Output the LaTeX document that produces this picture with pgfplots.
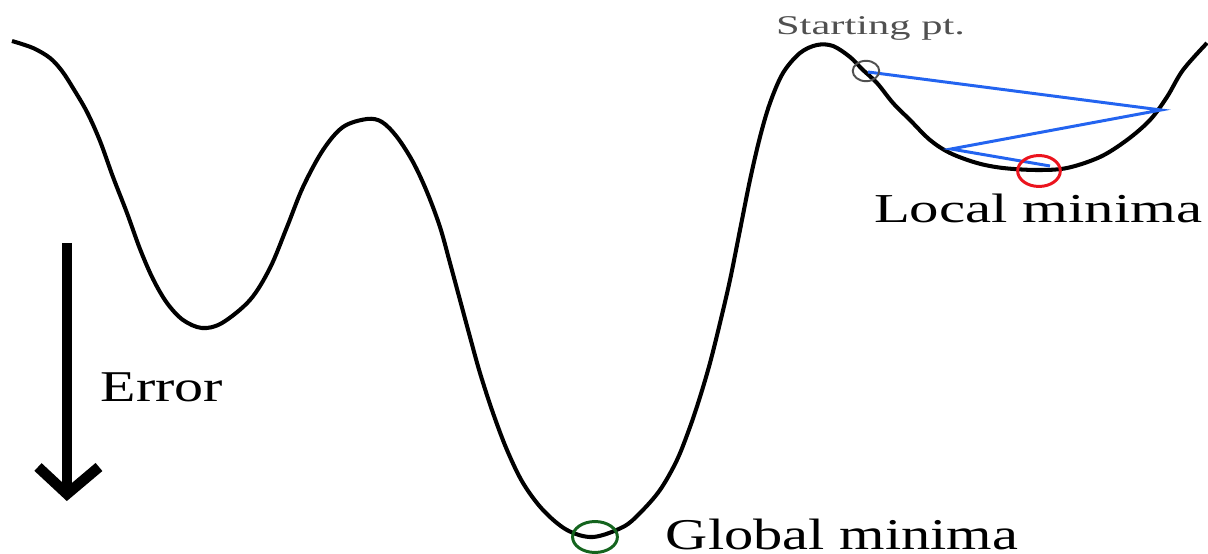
\documentclass[border=0pt]{standalone}
\usepackage{pgfplots}
\pgfplotsset{compat=1.18}
\usepackage{fontspec}
\setmainfont{Liberation Serif}
\definecolor{gdblue}{RGB}{35,100,240}
\definecolor{mingreen}{RGB}{20,100,30}
\definecolor{minred}{RGB}{235,20,30}
\definecolor{txtgray}{RGB}{80,80,80}
\begin{document}
\begin{tikzpicture}
\begin{axis}[
  scale only axis, width=12.08cm, height=5.54cm,
  xmin=0, xmax=1208, ymin=0, ymax=554, y dir=reverse,
  hide axis, clip=false]
\coordinate (BL) at (axis cs:0,554);
\coordinate (TR) at (axis cs:1208,0);
% error surface
\addplot[black, line width=1.15pt, smooth, tension=0.55] coordinates {
(12,41)(33,48)(50,58)(62,71)(73,88)(87,112)(100,141)(113,177)(127,213)(140,249)
(153,279)(167,303)(183,320)(202,328)(222,323)(250,300)(270,268)(287,227)(303,187)
(323,150)(343,127)(367,119)(382,122)(397,137)(413,162)(427,192)(440,227)(450,263)
(460,300)(470,337)(480,373)(493,413)(507,450)(523,483)(543,510)(567,530)(593,537)
(623,527)(640,513)(660,490)(677,460)(690,427)(700,397)(710,363)(720,323)(730,280)
(740,230)(750,180)(760,137)(770,103)(783,73)(800,53)(817,45)(833,46)(850,57)(863,70)
(877,83)(893,103)(910,120)(930,140)(950,153)(977,163)(1003,168)(1037,170)(1067,168)
(1100,157)(1127,140)(1150,120)(1167,97)(1183,70)(1207,43)};
% gradient descent steps
\addplot[gdblue, line width=0.85pt] coordinates {(868,72)(1161,110)(951,149)(1050,166)};
% circles
\addplot[only marks, mark=o, mark size=2.9pt, mark options={draw=txtgray, line width=0.55pt, xscale=1.3}] coordinates {(866,71)};
\addplot[only marks, mark=o, mark size=4.4pt, mark options={draw=minred, line width=0.85pt, xscale=1.38}] coordinates {(1039,171)};
\addplot[only marks, mark=o, mark size=4.4pt, mark options={draw=mingreen, line width=0.85pt, xscale=1.45}] coordinates {(595,537)};
% error arrow
\addplot[black, line width=2.8pt] coordinates {(67,243)(67,493)};
\addplot[black, line width=3pt, line join=miter] coordinates {(38,467)(67,494)(99,467)};
% labels
\node[anchor=base west, inner sep=0pt, xscale=1.32, font=\fontsize{12.5pt}{14pt}\selectfont] at (axis cs:100,401) {Error};
\node[anchor=base west, inner sep=0pt, xscale=1.33, font=\fontsize{12.5pt}{14pt}\selectfont] at (axis cs:665,549) {Global minima};
\node[anchor=base west, inner sep=0pt, xscale=1.43, font=\fontsize{11.7pt}{13pt}\selectfont] at (axis cs:873,223) {Local minima};
\node[anchor=base west, inner sep=0pt, xscale=1.57, text=txtgray, font=\fontsize{7.7pt}{9pt}\selectfont] at (axis cs:775,35) {Starting pt.};
\end{axis}
\pgfresetboundingbox
\path (BL) rectangle (TR);
\end{tikzpicture}
\end{document}
